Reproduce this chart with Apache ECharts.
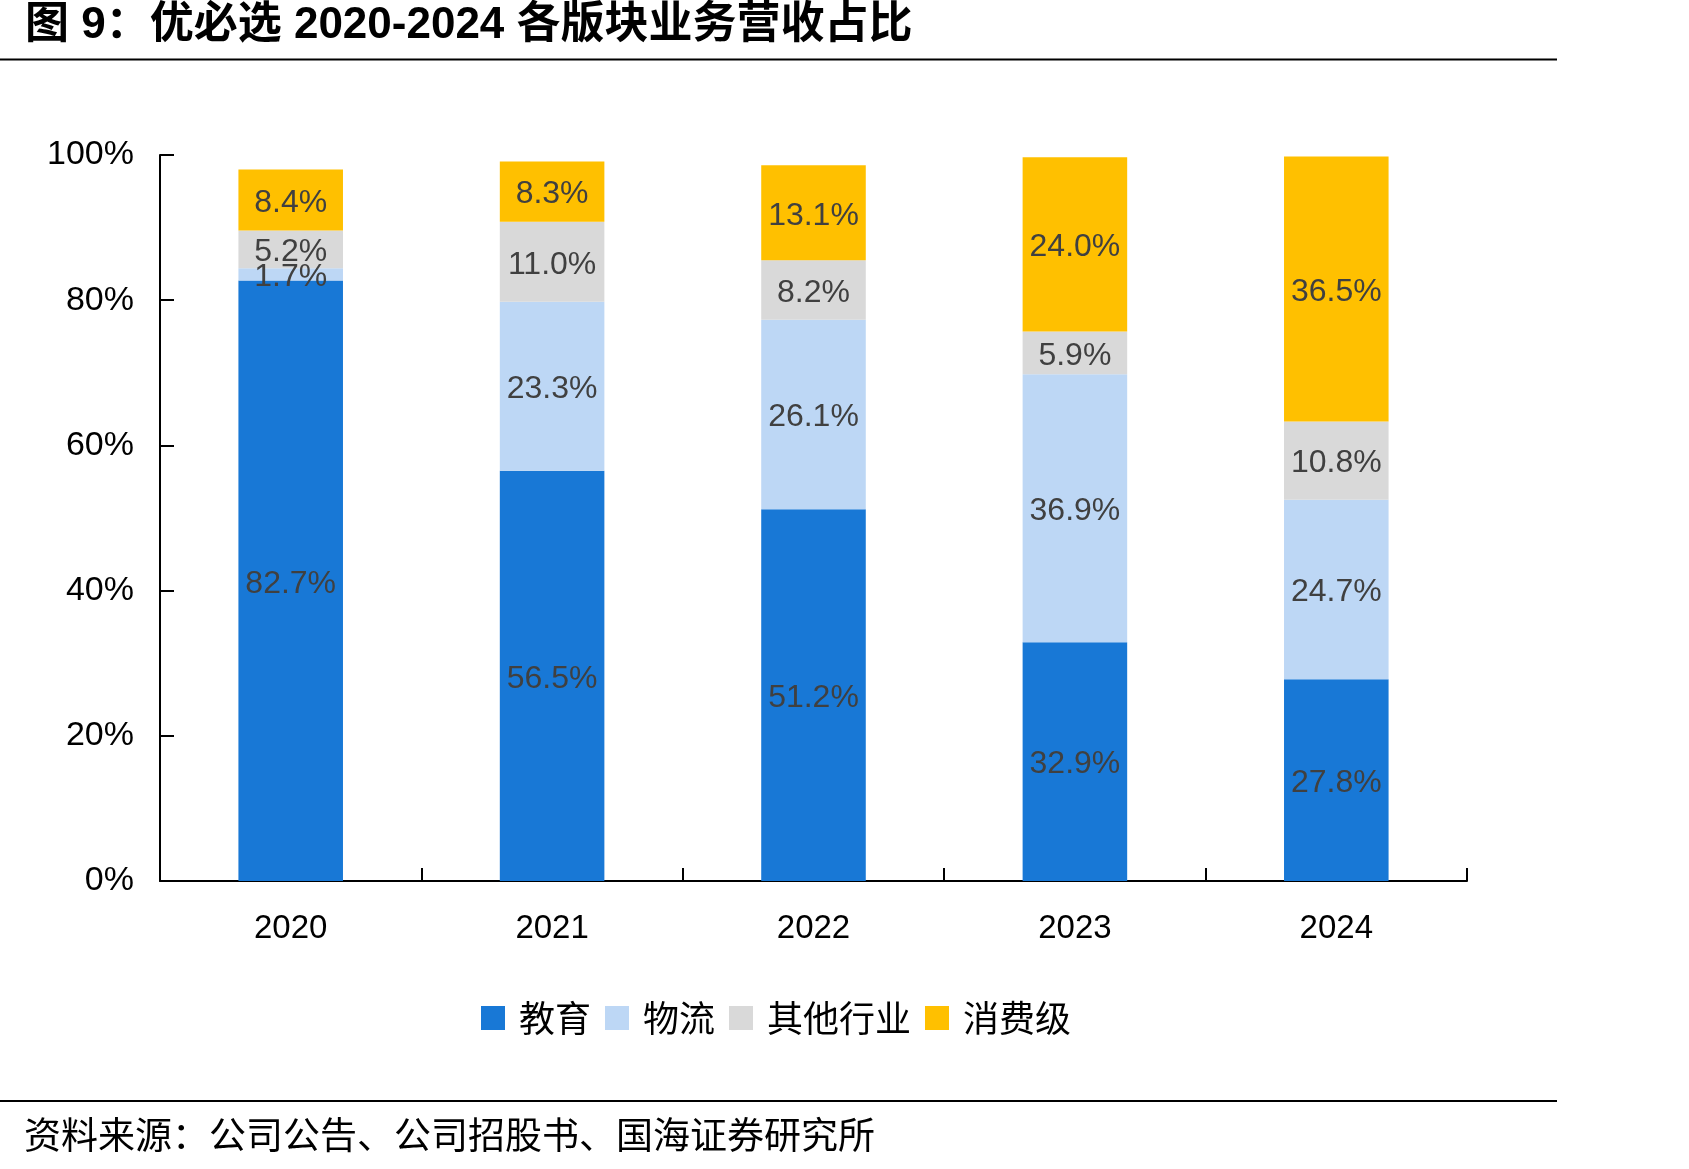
<!DOCTYPE html>
<html>
<head>
<meta charset="utf-8">
<script src="https://cdn.jsdelivr.net/npm/echarts@6/dist/echarts.min.js"></script>
<style>
html,body{margin:0;padding:0;background:#fff;}
#chart{width:1689px;height:1169px;}
</style>
</head>
<body>
<div id="chart"></div>
<script>
const categories = ['2020', '2021', '2022', '2023', '2024'];
const seriesNames = ['教育', '物流', '其他行业', '消费级'];
const education = [82.7, 56.5, 51.2, 32.9, 27.8];
const logistics = [1.7, 23.3, 26.1, 36.9, 24.7];
const otherIndustries = [5.2, 11.0, 8.2, 5.9, 10.8];
const consumer = [8.4, 8.3, 13.1, 24.0, 36.5];
const yTicks = [0, 20, 40, 60, 80, 100];

const colors = ['#1878D6', '#BDD7F5', '#D9D9D9', '#FFC000'];
const values = [education, logistics, otherIndustries, consumer];

const chart = echarts.init(document.getElementById('chart'), null, {renderer: 'canvas'});
const labelFont = '"Liberation Sans", Arial, sans-serif';
const cjkFont = '"Noto Sans CJK SC", sans-serif';

const series = seriesNames.map((name, i) => ({
  name: name,
  type: 'bar',
  stack: 'total',
  barWidth: '40%',
  data: values[i],
  itemStyle: {color: colors[i]},
  label: {
    show: true,
    position: 'inside',
    offset: [0, 3],
    formatter: p => p.value.toFixed(1) + '%',
    color: '#404040',
    fontFamily: labelFont,
    fontSize: 32
  }
}));

chart.setOption({
  animation: false,
  backgroundColor: '#fff',
  grid: {left: 160, right: 222, top: 155, bottom: 288},
  xAxis: {
    type: 'category',
    data: categories,
    axisLine: {lineStyle: {color: '#000', width: 2}},
    axisTick: {show: true, inside: true, length: 13, lineStyle: {color: '#000', width: 2}},
    axisLabel: {color: '#000', fontFamily: labelFont, fontSize: 33, margin: 31}
  },
  yAxis: {
    type: 'value',
    min: yTicks[0],
    max: yTicks[yTicks.length - 1],
    interval: 20,
    splitLine: {show: false},
    axisLine: {show: true, lineStyle: {color: '#000', width: 2}},
    axisTick: {show: true, inside: true, length: 14, lineStyle: {color: '#000', width: 2}},
    axisLabel: {color: '#000', fontFamily: labelFont, fontSize: 34, margin: 26, padding: [12, 0, 0, 0], formatter: '{value}%'}
  },
  legend: {
    data: seriesNames,
    left: 476,
    top: 995,
    itemWidth: 24,
    itemHeight: 24,
    itemGap: 14,
    icon: 'rect',
    textStyle: {fontFamily: cjkFont, fontSize: 36, color: '#000', padding: [0, 0, 0, 9]}
  },
  graphic: [
    {type: 'text', left: 25, top: 4, style: {text: '图 9：优必选 2020-2024 各版块业务营收占比', font: 'bold 44px "Liberation Sans", "Noto Sans CJK SC", sans-serif', fill: '#000'}},
    {type: 'line', shape: {x1: 0, y1: 59.5, x2: 1557, y2: 59.5}, style: {stroke: '#000', lineWidth: 2}},
    {type: 'line', shape: {x1: 0, y1: 1101, x2: 1557, y2: 1101}, style: {stroke: '#000', lineWidth: 2}},
    {type: 'text', left: 24, top: 1116, style: {text: '资料来源：公司公告、公司招股书、国海证券研究所', font: '37px "Noto Sans CJK SC", sans-serif', fill: '#000'}}
  ],
  series: series
});
</script>
</body>
</html>
